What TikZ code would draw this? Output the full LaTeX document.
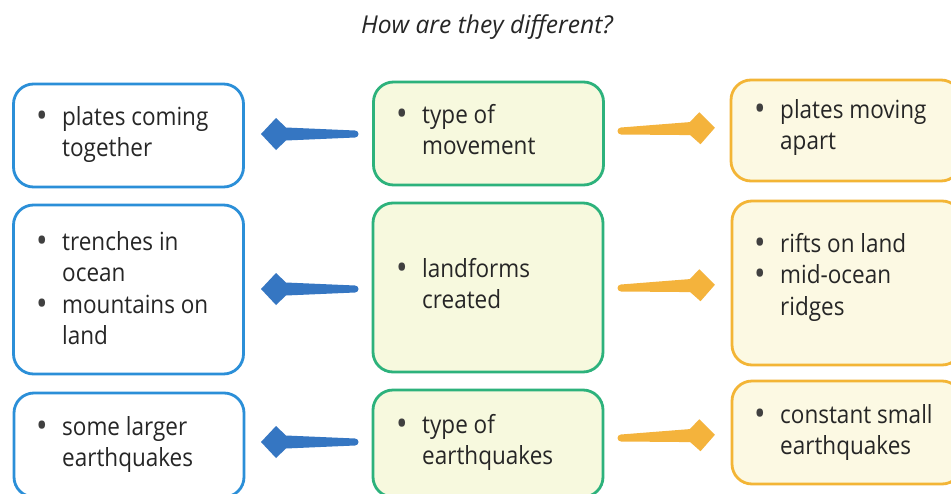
\documentclass[tikz,border=0pt]{standalone}
\usepackage{fontspec}
\setmainfont{Open Sans}[FakeStretch=0.9]
\newfontfamily\headfont{Open Sans}
\usetikzlibrary{calc}

\definecolor{boxblue}{HTML}{2B8FD8}
\definecolor{boxgreen}{HTML}{2DB27C}
\definecolor{boxorange}{HTML}{F3B536}
\definecolor{midfill}{HTML}{F7F9DE}
\definecolor{rightfill}{HTML}{FCF9E3}
\definecolor{arrowblue}{HTML}{3576C2}
\definecolor{arroworange}{HTML}{F4B33C}
\definecolor{inkgrey}{HTML}{262626}
\definecolor{dotgrey}{HTML}{404040}

% bullet in a fixed-width box, and the matching indent for wrapped lines
\newcommand\bp{\makebox[26pt][l]{\raisebox{-2.2pt}{\fontsize{34}{34}\selectfont\textcolor{dotgrey}{\textbullet}}}}
\newcommand\ind{\hspace*{26pt}}
\newcommand\bodyfont{\fontsize{25}{31.5}\selectfont}
\newcommand\lines[1]{\begin{tabular}[t]{@{}l@{}}#1\end{tabular}}

\tikzset{
  box/.style={draw, line width=2.8pt, rounded corners=20pt, inner sep=0pt,
    minimum width=230pt},
  leftbox/.style={box, draw=boxblue, fill=white},
  midbox/.style={box, draw=boxgreen, fill=midfill},
  rightbox/.style={box, draw=boxorange, fill=rightfill},
  label/.style={anchor=base west, inner sep=0pt, text=inkgrey, font=\bodyfont},
  % tapered arrow: rounded tail at the origin, tip 94 units along +x
  pics/fatarrow/.style={code={
    \fill[#1] (0,3.5) arc[start angle=90, end angle=270, radius=3.5]
      -- (69,-6.5) -- (79,-16) -- (94,0) -- (79,16) -- (69,6.5) -- cycle;
  }},
}

\begin{document}
\begin{tikzpicture}[x=1pt, y=-1pt]
  \useasboundingbox (0,0) rectangle (951,493);
  \clip (0,0) rectangle (951,493);
  \fill[white] (0,0) rectangle (951,493);

  % heading
  \node[anchor=base, inner sep=0pt, text=inkgrey,
    font=\headfont\fontsize{24.6}{30}\selectfont\itshape]
    (title) at (487,33) {How are they different?};

  % boxes
  \node[leftbox, minimum height=103pt] (l1) at (128.5,135.5) {};
  \node[leftbox, minimum height=169pt] (l2) at (128.5,289.5) {};
  \node[leftbox, minimum height=104pt] (l3) at (129,445) {};

  \node[midbox, minimum height=103pt] (m1) at (488.5,133.5) {};
  \node[midbox, minimum height=169pt] (m2) at (488,287.5) {};
  \node[midbox, minimum height=107pt] (m3) at (488,443.5) {};

  \node[rightbox, minimum height=101pt] (r1) at (846,130.5) {};
  \node[rightbox, minimum height=164pt] (r2) at (847,283) {};
  \node[rightbox, minimum height=103pt] (r3) at (847,432.5) {};

  % box texts
  \node[label] (l1t) at (36,125) {\lines{\bp plates coming\\ \ind together}};
  \node[label] (l2t) at (36,250) {\lines{\bp trenches in\\ \ind ocean\\ \bp mountains on\\ \ind land}};
  \node[label] (l3t) at (36,435) {\lines{\bp some larger\\ \ind earthquakes}};

  \node[label] (m1t) at (396,123) {\lines{\bp type of\\ \ind movement}};
  \node[label] (m2t) at (396,277) {\lines{\bp landforms\\ \ind created}};
  \node[label] (m3t) at (396,433) {\lines{\bp type of\\ \ind earthquakes}};

  \node[label] (r1t) at (754,118) {\lines{\bp plates moving\\ \ind apart}};
  \node[label] (r2t) at (754,252) {\lines{\bp rifts on land\\ \bp mid-ocean\\ \ind ridges}};
  \node[label] (r3t) at (754,423) {\lines{\bp constant small\\ \ind earthquakes}};

  % arrows out of the middle column
  \pic[xscale=-1] (ab1) at (355,134) {fatarrow=arrowblue};
  \pic[xscale=-1] (ab2) at (355,289) {fatarrow=arrowblue};
  \pic[xscale=-1] (ab3) at (355,442) {fatarrow=arrowblue};

  \pic[rotate=2] (ao1) at (621,131) {fatarrow=arroworange};
  \pic[rotate=2] (ao2) at (621,288) {fatarrow=arroworange};
  \pic[rotate=2] (ao3) at (621,438) {fatarrow=arroworange};
\end{tikzpicture}
\end{document}
